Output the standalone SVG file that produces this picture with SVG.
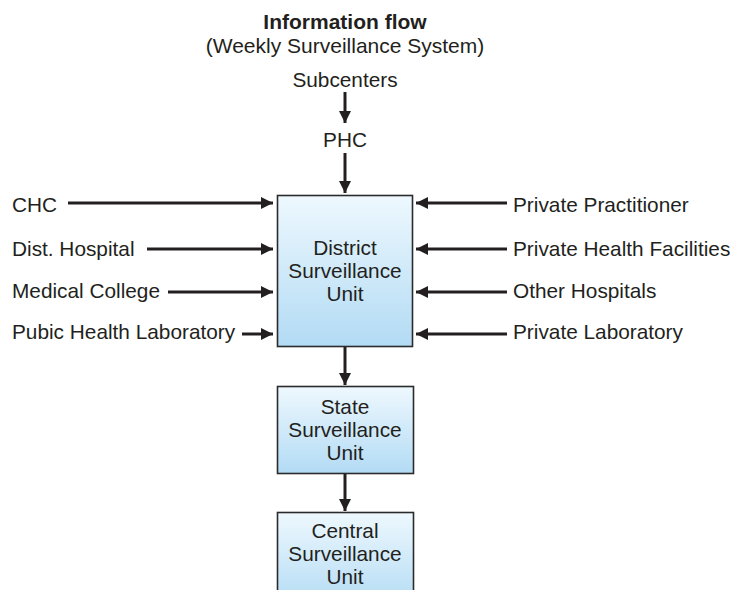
<svg xmlns="http://www.w3.org/2000/svg" width="730" height="590" viewBox="0 0 730 590">
<defs>
<linearGradient id="boxfill" x1="0" y1="0" x2="0" y2="1">
<stop offset="0" stop-color="#eef8fe"/>
<stop offset="1" stop-color="#b2dbf4"/>
</linearGradient>
<marker id="ah" markerWidth="4" markerHeight="4" refX="4" refY="2" orient="auto" markerUnits="strokeWidth">
<path d="M0,0 L4,2 L0,4 Z" fill="#231f20"/>
</marker>
</defs>
<style>
text{font-family:"Liberation Sans",Arial,sans-serif;fill:#231f20;font-size:20.8px}
.c{text-anchor:middle}
.h{font-size:21px}
.t{font-weight:bold}
.box{fill:url(#boxfill);stroke:#2b2b2b;stroke-width:1.6}
.con line{stroke:#231f20;stroke-width:3;marker-end:url(#ah)}
</style>
<rect width="730" height="590" fill="#ffffff"/>
<g id="title">
<text class="c h t" x="345" y="29">Information flow</text>
<text class="c h" x="345" y="53">(Weekly Surveillance System)</text>
</g>
<g id="subcenters"><text class="c" x="345" y="87">Subcenters</text></g>
<g id="phc"><text class="c" x="345" y="147">PHC</text></g>
<g id="chc"><text x="12" y="212">CHC</text></g>
<g id="dist-hospital"><text x="12" y="256">Dist. Hospital</text></g>
<g id="medical-college"><text x="12" y="298">Medical College</text></g>
<g id="pubic-health-lab"><text x="12" y="339">Pubic Health Laboratory</text></g>
<g id="private-practitioner"><text x="513" y="212">Private Practitioner</text></g>
<g id="private-health-facilities"><text x="513" y="256">Private Health Facilities</text></g>
<g id="other-hospitals"><text x="513" y="298">Other Hospitals</text></g>
<g id="private-laboratory"><text x="513" y="339">Private Laboratory</text></g>
<g id="district">
<rect class="box" x="277.5" y="195.5" width="135" height="151"/>
<text class="c" x="345" y="255">District</text>
<text class="c" x="345" y="278">Surveillance</text>
<text class="c" x="345" y="301">Unit</text>
</g>
<g id="state">
<rect class="box" x="277.5" y="386.5" width="136" height="87"/>
<text class="c" x="345" y="414">State</text>
<text class="c" x="345" y="437">Surveillance</text>
<text class="c" x="345" y="460">Unit</text>
</g>
<g id="central">
<rect class="box" x="277.5" y="512.5" width="136" height="95"/>
<text class="c" x="345" y="538">Central</text>
<text class="c" x="345" y="561">Surveillance</text>
<text class="c" x="345" y="584">Unit</text>
</g>
<g id="connectors" class="con">
<line x1="345" y1="92" x2="345" y2="123"/>
<line x1="345" y1="153" x2="345" y2="193"/>
<line x1="68" y1="203" x2="273" y2="203"/>
<line x1="147" y1="249" x2="273" y2="249"/>
<line x1="168" y1="292" x2="273" y2="292"/>
<line x1="242" y1="334" x2="273" y2="334"/>
<line x1="507" y1="203" x2="416" y2="203"/>
<line x1="507" y1="249" x2="416" y2="249"/>
<line x1="507" y1="292" x2="416" y2="292"/>
<line x1="507" y1="334" x2="416" y2="334"/>
<line x1="345" y1="347" x2="345" y2="385"/>
<line x1="345" y1="474" x2="345" y2="511"/>
</g>
</svg>
